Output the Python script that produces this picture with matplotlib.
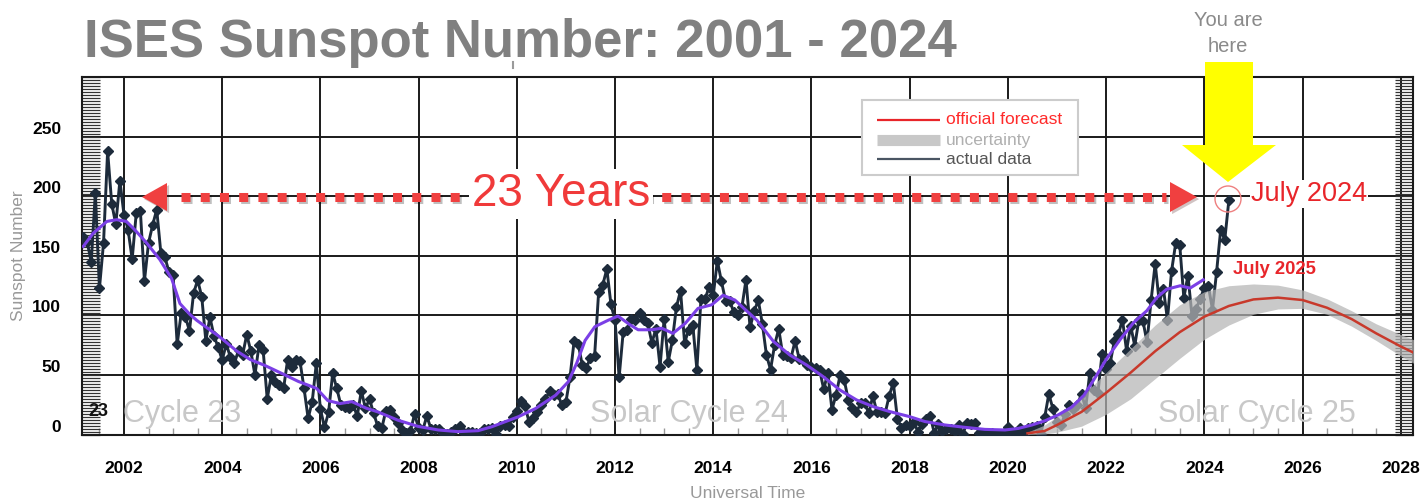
import numpy as np
import matplotlib
matplotlib.use("Agg")
import matplotlib.pyplot as plt
from matplotlib.ticker import MultipleLocator, FixedLocator
from matplotlib.patches import Polygon, Circle, Rectangle
from matplotlib.lines import Line2D
from matplotlib.transforms import IdentityTransform, ScaledTranslation
import matplotlib.patheffects as pe

plt.rcParams['font.family'] = ['Liberation Sans', 'DejaVu Sans']

# ---------------- data ----------------
first_year, first_month = 2001, 3
monthly_ssn = [
    # 2001 (Mar-Dec)
    165.8, 161.7, 145.0, 203.0, 122.7, 161.0, 238.2, 194.1, 176.6, 213.4,
    # 2002
    184.6, 172.0, 147.3, 186.0, 188.0, 129.0, 161.0, 176.0, 189.0, 152.8, 149.0, 136.5,
    # 2003
    134.0, 75.8, 102.4, 99.0, 87.0, 118.6, 129.8, 115.8, 78.8, 98.5, 82.8, 73.3,
    # 2004
    62.6, 76.0, 65.0, 60.0, 71.0, 67.0, 84.0, 70.0, 50.0, 75.0, 71.0, 30.0,
    # 2005
    49.6, 44.4, 41.6, 38.8, 63.0, 57.0, 63.0, 61.8, 38.8, 13.6, 27.6, 59.8,
    # 2006
    21.4, 6.0, 18.6, 51.4, 38.8, 24.8, 23.4, 22.0, 24.8, 15.5, 36.8, 22.0,
    # 2007
    29.6, 18.0, 7.0, 5.4, 20.0, 21.0, 15.0, 10.0, 4.0, 1.5, 3.0, 17.0,
    # 2008
    5.5, 3.5, 15.5, 5.0, 4.8, 5.0, 1.0, 0.8, 1.8, 4.8, 6.8, 1.5,
    # 2009
    2.5, 2.3, 1.2, 1.3, 4.8, 4.8, 5.3, 0.2, 7.0, 7.7, 7.0, 15.0,
    # 2010
    19.6, 28.5, 24.0, 10.4, 13.9, 18.8, 25.2, 29.6, 36.4, 33.6, 34.4, 24.5,
    # 2011
    27.3, 48.3, 78.6, 76.1, 58.2, 56.1, 64.5, 65.8, 120.1, 125.7, 139.1, 109.3,
    # 2012
    96.0, 48.0, 86.5, 88.0, 97.0, 96.0, 102.0, 96.0, 93.5, 77.0, 89.0, 57.0,
    # 2013
    97.0, 61.0, 79.0, 107.0, 121.0, 77.0, 88.0, 92.0, 54.5, 114.0, 114.0, 124.0,
    # 2014
    117.0, 146.0, 128.7, 112.5, 112.5, 102.9, 100.2, 106.9, 130.0, 90.0, 103.6, 112.9,
    # 2015
    93.0, 66.7, 54.5, 75.3, 88.8, 66.5, 65.8, 64.4, 78.6, 63.6, 62.2, 58.0,
    # 2016
    57.0, 56.0, 54.0, 38.0, 52.0, 21.0, 33.0, 50.0, 46.0, 29.0, 22.0, 19.0,
    # 2017
    26.1, 26.4, 17.7, 32.3, 18.9, 19.2, 17.8, 32.6, 43.6, 13.2, 5.7, 8.2,
    # 2018
    6.8, 10.7, 2.5, 8.9, 13.1, 15.6, 1.6, 8.7, 3.3, 4.9, 4.9, 3.1,
    # 2019
    7.7, 0.8, 9.4, 9.1, 9.9, 1.2, 0.9, 0.5, 1.1, 0.4, 0.5, 1.5,
    # 2020
    6.2, 0.2, 1.5, 5.2, 0.2, 5.8, 6.1, 7.5, 0.6, 14.4, 34.0, 21.8,
    # 2021
    10.4, 8.2, 17.2, 24.5, 21.2, 25.0, 34.3, 22.0, 51.3, 37.4, 34.8, 67.5,
    # 2022
    55.3, 59.9, 78.5, 84.1, 96.5, 70.5, 91.4, 74.6, 96.0, 95.5, 77.6, 112.8,
    # 2023
    143.6, 110.9, 122.6, 96.4, 137.4, 160.5, 159.1, 114.8, 133.6, 99.4, 105.4, 114.2,
    # 2024 (Jan-Jul)
    123.0, 124.7, 104.9, 136.5, 172.0, 163.5, 196.8,
]

smooth_years = [2001.17, 2001.37, 2001.65, 2001.85, 2002.05, 2002.22, 2002.46, 2002.73, 2002.97,
                2003.14, 2003.34, 2003.48, 2003.68, 2003.95, 2004.30, 2004.57, 2004.87, 2005.28,
                2005.55, 2005.92, 2006.15, 2006.40, 2006.64, 2006.94, 2007.17, 2007.58, 2007.99,
                2008.40, 2008.80, 2009.21, 2009.49, 2009.76, 2010.03, 2010.38, 2010.79, 2011.05,
                2011.22, 2011.39, 2011.59, 2011.86, 2012.06, 2012.30, 2012.47, 2012.75, 2012.95,
                2013.18, 2013.43, 2013.69, 2013.97, 2014.20, 2014.44, 2014.65, 2014.89, 2015.23,
                2015.56, 2015.90, 2016.24, 2016.58, 2016.92, 2017.26, 2017.60, 2018.00, 2018.31,
                2018.72, 2019.13, 2019.53, 2019.94, 2020.21, 2020.49, 2020.76, 2021.02, 2021.30,
                2021.55, 2021.81, 2022.00, 2022.29, 2022.56, 2022.83, 2023.03, 2023.23, 2023.51,
                2023.71, 2023.98]
smooth_values = [158, 169, 179, 180.5, 179, 172, 161, 147, 131,
                 110, 101, 96, 90, 82, 70, 63, 58, 50,
                 44.6, 38.8, 28.5, 26, 27.6, 22, 19, 12, 6.8,
                 3.8, 2.4, 3.2, 6.5, 10.7, 14.9, 21.8, 33, 44.4,
                 60, 79, 90.6, 96, 99.5, 92.3, 88, 88, 89.3,
                 85, 93.4, 106, 109, 117, 113, 105, 96, 78,
                 66.8, 58.4, 48.6, 37.4, 29, 23.4, 19.2, 15, 10.9,
                 8, 6, 4.3, 3.8, 5.1, 8, 11.6, 16.4, 23,
                 33, 50, 63, 80, 94, 104, 115, 122, 125,
                 123, 130]

fc_years = [2020.4, 2020.75, 2021.0, 2021.5, 2022.0, 2022.5, 2023.0, 2023.5, 2024.0,
            2024.5, 2025.0, 2025.5, 2026.0, 2026.5, 2027.0, 2027.5, 2028.0, 2028.3]
fc_values = [1, 3, 8, 19, 35, 52, 70, 86, 99,
             108, 113.5, 115, 113, 106.5, 97, 85, 74, 68]
fc_upper = [2, 8, 15, 32, 52, 72, 92, 109, 120,
            125, 126.5, 125.5, 121.5, 114, 104, 93, 84, 79]
fc_lower = [0, 0.5, 2, 7, 17, 30, 47, 64, 80,
            92, 101, 105.5, 106, 101, 91, 79, 66, 59]

x_ticks = [2002, 2004, 2006, 2008, 2010, 2012, 2014, 2016, 2018, 2020, 2022, 2024, 2026, 2028]
y_ticks = [0, 50, 100, 150, 200, 250]

# ---------------- figure ----------------
W, H = 1421, 500
fig = plt.figure(figsize=(W / 100, H / 100), dpi=100)
ax = fig.add_axes([82 / W, 1 - 434.5 / H, (1413 - 82) / W, (434.5 - 77) / H])

t = first_year + (first_month - 1) / 12 + np.arange(len(monthly_ssn)) / 12.0

ax.plot(t, monthly_ssn, color='#1d2b3b', lw=2.1, marker='D', ms=5.5, zorder=3)
ax.fill_between(fc_years, fc_lower, fc_upper, color='#b4b4b4', alpha=0.72, lw=0, zorder=4)
ax.plot(fc_years, fc_values, color='#c8392b', lw=1.8, zorder=5)
ax.plot(smooth_years, smooth_values, color='#7b3fe6', lw=2.2, zorder=6)

ax.set_xlim(2001.145, 2028.25)
ax.set_ylim(0, 300.4)
ax.xaxis.set_major_locator(FixedLocator(x_ticks))
ax.xaxis.set_minor_locator(MultipleLocator(0.5))
ax.yaxis.set_major_locator(FixedLocator(y_ticks))
ax.yaxis.set_minor_locator(MultipleLocator(2.5))
ax.set_xticklabels([str(v) for v in x_ticks], fontweight='bold', fontsize=12.5)
ax.set_yticklabels([str(v) for v in y_ticks], fontweight='bold', fontsize=12.5)
ax.tick_params(axis='x', which='major', length=0, pad=19)
ax.tick_params(axis='x', which='minor', direction='in', length=5, width=1, color='#999999',
               bottom=True, top=False)
ax.tick_params(axis='y', which='both', direction='in', length=13, width=0.9, color='#333333',
               left=True, right=True, pad=15)
for lab in ax.get_yticklabels():
    lab.set_transform(lab.get_transform() + ScaledTranslation(0, 0.09, fig.dpi_scale_trans))
ax.grid(True, which='major', color='#1a1a1a', lw=1.4)
ax.set_axisbelow(True)
for s in ax.spines.values():
    s.set_linewidth(1.5)
    s.set_color('#1a1a1a')

ax.set_xlabel('Universal Time', color='#999999', fontsize=12.5, labelpad=7)
ax.set_ylabel('Sunspot Number', color='#999999', fontsize=12.5, labelpad=4.5)

# cycle labels
ax.text(2001.28, 19, '23', fontsize=13, fontweight='bold', color='#111111', ha='left', va='center', zorder=7)
ax.text(2001.99, 5, 'Cycle 23', fontsize=22, color='#c8c8c8', ha='left', va='bottom', zorder=7)
ax.text(2011.49, 5, 'Solar Cycle 24', fontsize=22, color='#c8c8c8', ha='left', va='bottom', zorder=7)
ax.text(2023.05, 5, 'Solar Cycle 25', fontsize=22, color='#c8c8c8', ha='left', va='bottom', zorder=7)

# ---------------- annotations in pixel coordinates ----------------
IT = IdentityTransform()
def P(x, y):
    return (x, H - y)

# title
fig.text(*P(84, 57), 'ISES Sunspot Number: 2001 - 2024', transform=IT, fontsize=38,
         fontweight='bold', color='#808080', ha='left', va='baseline')
fig.add_artist(Line2D([513, 513], [H - 62, H - 68], transform=IT, color='#9a9a9a', lw=1.5))

# You are here
fig.text(*P(1228, 20), 'You are', transform=IT, fontsize=14.5, color='#8a8a8a', ha='center', va='center')
fig.text(*P(1228, 46), 'here', transform=IT, fontsize=14.5, color='#8a8a8a', ha='center', va='center')
arrow_pts = [P(1205, 62), P(1253, 62), P(1253, 145), P(1276, 145), P(1228, 182), P(1182, 145), P(1205, 145)]
fig.add_artist(Polygon(arrow_pts, closed=True, transform=IT, facecolor='#ffff00', edgecolor='none', zorder=20))

# red dotted double arrow
shadow = [pe.SimpleLineShadow(offset=(1.5, -1.5), alpha=0.25), pe.Normal()]
fig.add_artist(Line2D([181, 1166], [H - 197, H - 197], transform=IT, color='#f04040', lw=6.5,
                      dashes=(1, 1.13), dash_capstyle='butt', zorder=18, path_effects=shadow))
pshadow = [pe.SimplePatchShadow(offset=(1.5, -1.5), alpha=0.25), pe.Normal()]
fig.add_artist(Polygon([P(142, 197), P(167, 183), P(167, 211)], closed=True, transform=IT,
                       facecolor='#f04040', edgecolor='none', zorder=18, path_effects=pshadow))
fig.add_artist(Polygon([P(1197, 197), P(1170, 182), P(1170, 212)], closed=True, transform=IT,
                       facecolor='#f04040', edgecolor='none', zorder=18, path_effects=pshadow))
fig.text(*P(561, 194), '23 Years', transform=IT, fontsize=33, color='#f03a3a', ha='center', va='center',
         zorder=19, bbox=dict(facecolor='white', edgecolor='none', pad=2))

# circle and labels
fig.add_artist(Circle(P(1228, 199), 13, transform=IT, facecolor='none', edgecolor='#ee8080', lw=1.0, zorder=21))
fig.text(*P(1251, 194), 'July 2024', transform=IT, fontsize=19.5, color='#e8252a', ha='left', va='center',
         zorder=19, bbox=dict(facecolor='white', edgecolor='none', pad=0.5))
fig.text(*P(1233, 270), 'July 2025', transform=IT, fontsize=13.3, fontweight='bold', color='#e8252a',
         ha='left', va='center', zorder=19)

# legend (manual)
fig.add_artist(Rectangle(P(862, 175), 216, 75, transform=IT, facecolor='white', edgecolor='#cccccc',
                         lw=1.5, zorder=15))
rows = [(120, '#e8252a', 'official forecast', '#ff2a2a', 1.6),
        (140, '#c8c8c8', 'uncertainty', '#b0b0b0', 8),
        (159, '#4a5563', 'actual data', '#555555', 1.6)]
for yy, lc, txt, tc, lw in rows:
    fig.add_artist(Line2D([877, 940], [H - yy, H - yy], transform=IT, color=lc, lw=lw,
                          solid_capstyle='butt', zorder=16))
    fig.text(*P(946, yy), txt, transform=IT, fontsize=12.5, color=tc, ha='left', va='center', zorder=16)

fig.savefig('out.png', dpi=100)
